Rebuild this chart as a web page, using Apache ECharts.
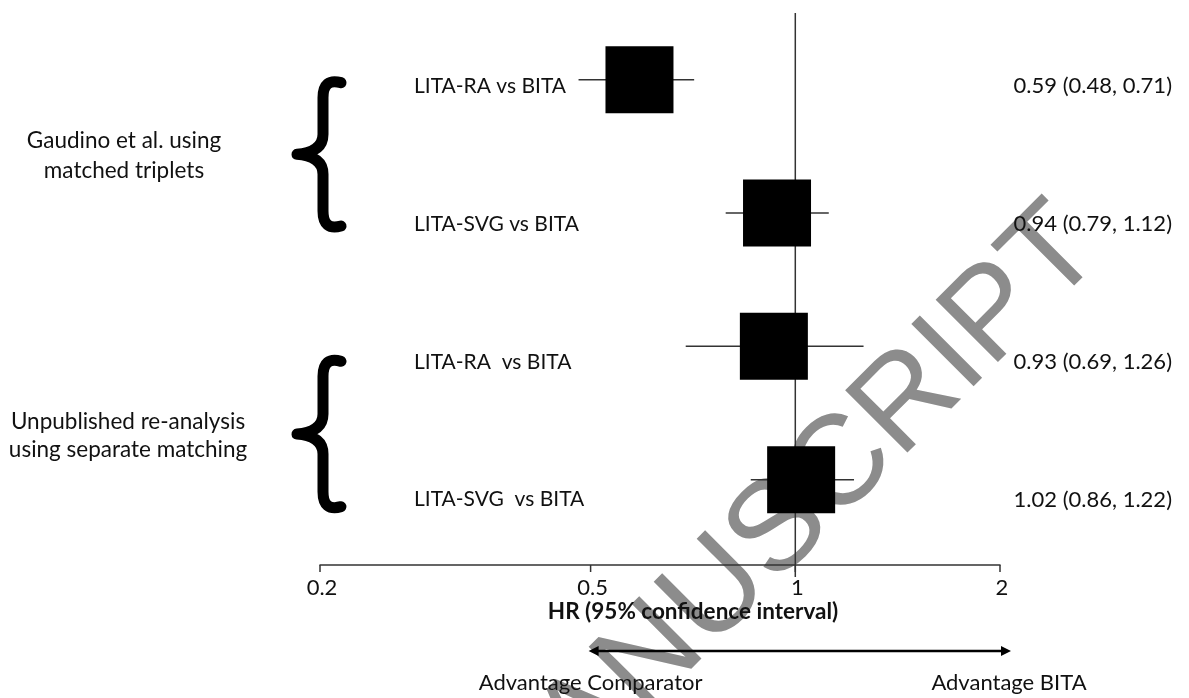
<!DOCTYPE html>
<html><head><meta charset="utf-8">
<script src="https://cdn.jsdelivr.net/npm/echarts@6/dist/echarts.min.js"></script>
<style>html,body{margin:0;padding:0;background:#fff}#c{width:1189px;height:698px}</style>
</head><body><div id="c"></div>
<script>
// ---- data ----
const comparisons = ['LITA-RA vs BITA', 'LITA-SVG vs BITA', 'LITA-RA  vs BITA', 'LITA-SVG  vs BITA'];
const hrValues = [0.59, 0.94, 0.93, 1.02];
const ciLow = [0.48, 0.79, 0.69, 0.86];
const ciHigh = [0.71, 1.12, 1.26, 1.22];
const estimateLabels = ['0.59 (0.48, 0.71)', '0.94 (0.79, 1.12)', '0.93 (0.69, 1.26)', '1.02 (0.86, 1.22)'];
const groupLabels = ['Gaudino et al. using\nmatched triplets', 'Unpublished re-analysis\nusing separate matching'];
const groupRows = [[1, 2], [3, 4]];
const tickValues = [0.2, 0.5, 1, 2];
const tickLabels = ['0.2', '0.5', '1', '2'];
const axisTitle = 'HR (95% confidence interval)';
const directionLabels = ['Advantage Comparator', 'Advantage BITA'];
const watermark = 'MANUSCRIPT';

const FONT = 'Lato, "Open Sans", sans-serif';
const TXT = '#111';
const Y_MIN = 0.5, Y_MAX = 4.64;

const rows = hrValues.map((v, i) => [v, i + 1, ciLow[i], ciHigh[i]]);

const chart = echarts.init(document.getElementById('c'), null, {renderer: 'canvas'});

function bracePath(top, bottom, tipX, stemX, endX) {
  const mid = (top + bottom) / 2;
  return 'M ' + endX + ' ' + (top + 3) +
    ' Q ' + stemX + ' ' + (top - 2) + ' ' + stemX + ' ' + (top + 18) +
    ' L ' + stemX + ' ' + (mid - 20) +
    ' Q ' + stemX + ' ' + (mid - 2) + ' ' + tipX + ' ' + mid +
    ' Q ' + stemX + ' ' + (mid + 2) + ' ' + stemX + ' ' + (mid + 20) +
    ' L ' + stemX + ' ' + (bottom - 18) +
    ' Q ' + stemX + ' ' + (bottom + 2) + ' ' + endX + ' ' + (bottom - 3);
}
const braceOffsets = [[0, 16], [12, 30]];

const option = {
  backgroundColor: '#fff',
  animation: false,
  grid: {left: 320, width: 680, top: 13, height: 552},
  xAxis: {
    type: 'log', logBase: 10, min: 0.2, max: 2,
    axisLine: {show: true, onZero: false, lineStyle: {color: '#333', width: 1.5}},
    axisTick: {show: false}, axisLabel: {show: false}, splitLine: {show: false}
  },
  yAxis: {
    type: 'value', inverse: true, min: Y_MIN, max: Y_MAX, show: false
  },
  graphic: [
    {type: 'text', z: 0, x: 782, y: 528, rotation: Math.PI / 4,
     style: {text: watermark, fontSize: 128, fontFamily: '"Liberation Sans", Arial, sans-serif',
             fill: '#8c8c8c', align: 'center', verticalAlign: 'middle'}},
    {type: 'text', z: 1, x: 124, y: 156,
     style: {text: groupLabels[0], fontSize: 22.5, fontFamily: FONT, fill: TXT, align: 'center', verticalAlign: 'middle', lineHeight: 30}},
    {type: 'text', z: 1, x: 128, y: 436,
     style: {text: groupLabels[1], fontSize: 22.5, fontFamily: FONT, fill: TXT, align: 'center', verticalAlign: 'middle', lineHeight: 28}}
  ],
  series: [
    {
      type: 'custom', name: 'braces', z: 3, silent: true, clip: false,
      data: groupRows,
      renderItem: function (params, api) {
        const off = braceOffsets[params.dataIndex];
        const t = api.coord([1, api.value(0)])[1];
        const b = api.coord([1, api.value(1)])[1];
        return {type: 'path', shape: {pathData: bracePath(t + off[0], b + off[1], 297, 323, 341)},
                style: {fill: null, stroke: '#000', lineWidth: 11, lineCap: 'round', lineJoin: 'round'}};
      }
    },
    {
      type: 'custom', name: 'reference', z: 3, silent: true, clip: false,
      data: [[1]],
      renderItem: function (params, api) {
        const top = api.coord([api.value(0), Y_MIN]);
        const bot = api.coord([api.value(0), Y_MAX]);
        return {type: 'line', shape: {x1: top[0], y1: top[1], x2: bot[0], y2: bot[1] + 12},
                style: {stroke: '#333', lineWidth: 1.5}};
      }
    },
    {
      type: 'custom', name: 'ticks', z: 3, silent: true, clip: false,
      data: tickValues.map(v => [v]),
      renderItem: function (params, api) {
        const p = api.coord([api.value(0), Y_MAX]);
        return {type: 'group', children: [
          {type: 'line', shape: {x1: p[0], y1: p[1], x2: p[0], y2: p[1] + 7}, style: {stroke: '#333', lineWidth: 1.5}},
          {type: 'text', style: {x: p[0] + 2, y: p[1] + 23, text: tickLabels[params.dataIndex], fontSize: 22,
            fontFamily: FONT, fill: TXT, align: 'center', verticalAlign: 'middle'}}
        ]};
      }
    },
    {
      type: 'custom', name: 'HR', z: 4, silent: true, clip: false,
      data: rows,
      renderItem: function (params, api) {
        const i = params.dataIndex;
        const c = api.coord([api.value(0), api.value(1)]);
        const lo = api.coord([api.value(2), api.value(1)]);
        const hi = api.coord([api.value(3), api.value(1)]);
        const dy = 6.5 + i * 4.5;
        return {type: 'group', children: [
          {type: 'line', shape: {x1: lo[0], y1: c[1], x2: hi[0], y2: c[1]}, style: {stroke: '#333', lineWidth: 1.5}},
          {type: 'rect', shape: {x: c[0] - 34, y: c[1] - 33.5, width: 68, height: 67}, style: {fill: '#000'}},
          {type: 'text', style: {x: 414, y: c[1] + dy, text: comparisons[i], fontSize: 21, fontFamily: FONT,
            fill: TXT, align: 'left', verticalAlign: 'middle'}},
          {type: 'text', style: {x: 1172, y: c[1] + dy, text: estimateLabels[i], fontSize: 22, fontFamily: FONT,
            fill: TXT, align: 'right', verticalAlign: 'middle'}}
        ]};
      }
    },
    {
      type: 'custom', name: 'direction', z: 3, silent: true, clip: false,
      data: [[0.5, 2]],
      renderItem: function (params, api) {
        const a = api.coord([api.value(0), Y_MAX]);
        const b = api.coord([api.value(1), Y_MAX]);
        const y = a[1] + 86;
        const x1 = a[0] - 2, x2 = b[0] + 11;
        return {type: 'group', children: [
          {type: 'text', style: {x: 693, y: a[1] + 47, text: axisTitle, fontSize: 22.5, fontWeight: 'bold',
            fontFamily: FONT, fill: TXT, align: 'center', verticalAlign: 'middle'}},
          {type: 'line', shape: {x1: x1 + 6, y1: y, x2: x2 - 6, y2: y}, style: {stroke: '#000', lineWidth: 2.5}},
          {type: 'polygon', shape: {points: [[x1, y], [x1 + 10, y - 5], [x1 + 10, y + 5]]}, style: {fill: '#000'}},
          {type: 'polygon', shape: {points: [[x2, y], [x2 - 10, y - 5], [x2 - 10, y + 5]]}, style: {fill: '#000'}},
          {type: 'text', style: {x: a[0], y: y + 32, text: directionLabels[0], fontSize: 22, fontFamily: FONT,
            fill: TXT, align: 'center', verticalAlign: 'middle'}},
          {type: 'text', style: {x: b[0] + 9, y: y + 32, text: directionLabels[1], fontSize: 22, fontFamily: FONT,
            fill: TXT, align: 'center', verticalAlign: 'middle'}}
        ]};
      }
    }
  ]
};
chart.setOption(option);
</script>
</body></html>
